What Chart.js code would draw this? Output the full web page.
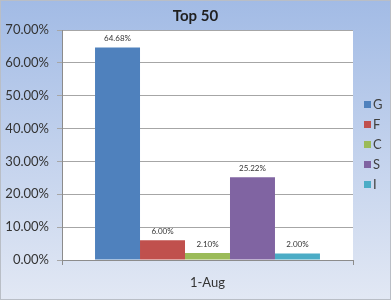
<!DOCTYPE html>
<html lang="en">
<head>
    <meta charset="UTF-8">
    <script src="https://cdn.jsdelivr.net/npm/chart.js"></script>
    <title>Top 50</title>
    <style>
        html, body { margin: 0; padding: 0; background: #fff; }
        #box { width: 391px; height: 300px; position: relative; }
    </style>
</head>
<body>
    <div id="box"><canvas id="myChart" width="391" height="300"></canvas></div>

<script>
    const categorias = ['1-Aug'];
    const series = ['G', 'F', 'C', 'S', 'I'];
    const valores = [64.68, 6.00, 2.10, 25.22, 2.00];
    const cores = ['#4f81bd', '#c0504d', '#9bbb59', '#8064a2', '#4bacc6'];
    const ticksY = [0, 10, 20, 30, 40, 50, 60, 70];
    const titulo = 'Top 50';

    const fonte = 'Lato, "Open Sans", sans-serif';

    // fundo em degrade + area do grafico branca
    const fundo = {
        id: 'fundo',
        beforeDraw(chart) {
            const ctx = chart.ctx;
            const w = chart.width, h = chart.height;
            const g = ctx.createLinearGradient(0, 0, 0, h);
            g.addColorStop(0, '#a2bbe5');
            g.addColorStop(1, '#e2e8f4');
            ctx.save();
            ctx.fillStyle = g;
            ctx.fillRect(0, 0, w, h);
            ctx.strokeStyle = '#b9bec6';
            ctx.lineWidth = 1;
            ctx.strokeRect(0.5, 0.5, w - 1, h - 1);
            const a = chart.chartArea;
            ctx.fillStyle = '#ffffff';
            ctx.fillRect(a.left, a.top, a.right - a.left, a.bottom - a.top);
            ctx.restore();
        }
    };

    // titulo, rotulos de valor e legenda
    const extras = {
        id: 'extras',
        afterDatasetsDraw(chart) {
            const ctx = chart.ctx;
            ctx.save();
            ctx.font = 'bold 15px ' + fonte;
            ctx.fillStyle = '#1f1f1f';
            ctx.textAlign = 'center';
            ctx.textBaseline = 'middle';
            ctx.fillText(titulo, chart.width / 2, 16);

            ctx.font = '8px ' + fonte;
            ctx.fillStyle = '#333';
            ctx.textBaseline = 'bottom';
            chart.data.datasets.forEach((ds, i) => {
                const bar = chart.getDatasetMeta(i).data[0];
                ctx.fillText(ds.data[0].toFixed(2) + '%', bar.x, bar.y - 5);
            });

            // legenda
            ctx.font = '13px ' + fonte;
            ctx.textAlign = 'left';
            ctx.textBaseline = 'middle';
            chart.data.datasets.forEach((ds, i) => {
                const y = 104 + i * 20;
                ctx.fillStyle = ds.backgroundColor;
                ctx.fillRect(364, y - 3, 7, 7);
                ctx.fillStyle = '#404040';
                ctx.fillText(ds.label, 373, y + 1);
            });
            ctx.restore();
        }
    };

    const grafico = new Chart(document.getElementById('myChart'), {
        type: 'bar',
        data: {
            labels: categorias,
            datasets: series.map((s, i) => ({
                label: s,
                data: [valores[i]],
                backgroundColor: cores[i],
                barPercentage: 1,
                categoryPercentage: 0.773
            }))
        },
        options: {
            responsive: false,
            animation: false,
            layout: { padding: { top: 30, right: 38, bottom: 0, left: 0 } },
            plugins: {
                legend: { display: false },
                title: { display: false }
            },
            scales: {
                x: {
                    afterFit(scale) { scale.height = 40; },
                    grid: { display: true, drawOnChartArea: false, offset: true, tickLength: 5, color: '#8c8c8c' },
                    border: { color: '#8c8c8c' },
                    ticks: { color: '#333', font: { family: fonte, size: 13 }, padding: 10, maxRotation: 0 }
                },
                y: {
                    min: 0,
                    max: 70,
                    afterFit(scale) { scale.width = 62; },
                    afterBuildTicks(scale) { scale.ticks = ticksY.map(v => ({ value: v })); },
                    grid: { color: '#a6a6a6', tickLength: 5 },
                    border: { color: '#8c8c8c' },
                    ticks: {
                        color: '#333',
                        font: { family: fonte, size: 13 },
                        padding: 8,
                        callback: v => v.toFixed(2) + '%'
                    }
                }
            }
        },
        plugins: [fundo, extras]
    });
</script>
</body>
</html>
